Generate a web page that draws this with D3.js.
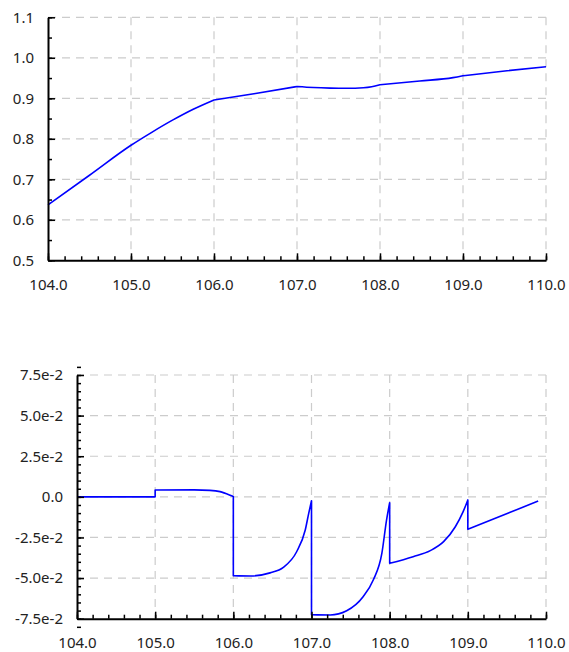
<!DOCTYPE html>
<html>
<head>
<meta charset="utf-8">
<script src="https://cdn.jsdelivr.net/npm/d3@7"></script>
<style>
  html, body { margin: 0; padding: 0; background: #fff; }
  svg { display: block; }
  text { font-family: "Noto Sans", sans-serif; font-size: 15px; fill: #222; }
</style>
</head>
<body>
<svg id="chart" width="569" height="652"></svg>
<script>
// ---------- DATA ----------
const topX = [104.0, 104.5, 105.0, 105.25, 105.5, 105.75, 106.0, 106.5, 107.0, 107.2, 107.4, 107.6, 107.8, 107.9, 108.0, 108.48, 108.88, 109.0, 109.53, 110.0];
const topY = [0.637, 0.710, 0.784, 0.816, 0.846, 0.873, 0.896, 0.912, 0.929, 0.9265, 0.9252, 0.9247, 0.926, 0.9285, 0.9336, 0.9427, 0.951, 0.9557, 0.968, 0.978];
const topKnots = [106, 107, 108, 109];   // x values where the upper curve has a corner

const botX = [104.0, 105.0,
              105.0, 105.5, 105.7, 105.83, 105.96, 106.0,
              106.0, 106.22, 106.47, 106.64, 106.81, 106.92, 106.965, 107.0,
              107.0, 107.24, 107.45, 107.66, 107.79, 107.90, 107.96, 108.0,
              108.0, 108.3, 108.52, 108.69, 108.84, 108.94, 109.0,
              109.0, 109.9];
const botY = [0.0, 0.0,
              0.0042, 0.0043, 0.0040, 0.0032, 0.0010, 0.0002,
              -0.0485, -0.0487, -0.0468, -0.0434, -0.0338, -0.0204, -0.0100, -0.0024,
              -0.0725, -0.0727, -0.0701, -0.0615, -0.0512, -0.0348, -0.0143, -0.0036,
              -0.0409, -0.0368, -0.0331, -0.0276, -0.0184, -0.0091, -0.0019,
              -0.0200, -0.0026];

const xTicks = [104, 105, 106, 107, 108, 109, 110];
const xTickLabels = ["104.0", "105.0", "106.0", "107.0", "108.0", "109.0", "110.0"];
const topYTicks = [0.5, 0.6, 0.7, 0.8, 0.9, 1.0, 1.1];
const topYLabels = ["0.5", "0.6", "0.7", "0.8", "0.9", "1.0", "1.1"];
const botYTicks = [-0.075, -0.05, -0.025, 0, 0.025, 0.05, 0.075];
const botYLabels = ["-7.5e-2", "-5.0e-2", "-2.5e-2", "0.0", "2.5e-2", "5.0e-2", "7.5e-2"];

// ---------- LAYOUT ----------
const svg = d3.select("#chart");
svg.append("rect").attr("width", 569).attr("height", 652).attr("fill", "#fff");

// split a series into smooth pieces: at repeated x (jumps) or at corner knots
function pieces(xs, ys, knots) {
  const segs = [];
  let cur = [];
  xs.forEach((v, i) => {
    if (i > 0 && v === xs[i - 1]) { segs.push(cur); cur = []; }
    cur.push([v, ys[i]]);
    if (knots.includes(v) && i > 0 && i < xs.length - 1 && xs[i + 1] !== v) {
      segs.push(cur); cur = [[v, ys[i]]];
    }
  });
  segs.push(cur);
  return segs;
}

const panels = [
  { x: d3.scaleLinear([104, 110], [48, 546]),
    y: d3.scaleLinear([0.5, 1.1], [260.3, 17.3]),
    yTicks: topYTicks, yLabels: topYLabels,
    yMinor: d3.range(0, 13).map(i => +(0.5 + i * 0.05).toFixed(3)),
    xs: topX, ys: topY, knots: topKnots },
  { x: d3.scaleLinear([104, 110], [77, 546]),
    y: d3.scaleLinear([-0.075, 0.075], [618.7, 375]),
    yTicks: botYTicks, yLabels: botYLabels,
    yMinor: d3.range(0, 33).map(i => +(-0.08 + i * 0.005).toFixed(4)),
    xs: botX, ys: botY, knots: [] }
];

const xMinor = d3.range(0, 31).map(i => +(104 + i * 0.2).toFixed(2));

panels.forEach(p => {
  const g = svg.append("g");
  const [x0, x1] = p.x.range();
  const [yb, yt] = p.y.range();

  // grid
  const grid = g.append("g").attr("stroke", "#cccccc").attr("stroke-width", 1.2)
    .attr("stroke-dasharray", "8,6").attr("fill", "none");
  xTicks.slice(1).forEach(v => {
    grid.append("line").attr("x1", p.x(v)).attr("x2", p.x(v)).attr("y1", yt).attr("y2", yb);
  });
  p.yTicks.slice(1).forEach(v => {
    grid.append("line").attr("x1", x1).attr("x2", x0).attr("y1", p.y(v)).attr("y2", p.y(v));
  });

  // series
  const line = d3.line().x((d) => p.x(d[0])).y((d) => p.y(d[1])).curve(d3.curveMonotoneX);
  let pathStr = "";
  pieces(p.xs, p.ys, p.knots).forEach((s, k) => {
    let d = line(s);
    if (k > 0) d = "L" + d.slice(1);
    pathStr += d;
  });
  g.append("path").attr("d", pathStr).attr("fill", "none")
    .attr("stroke", "#0000ff").attr("stroke-width", 1.6).attr("stroke-linejoin", "round");

  // x axis minor
  const xMin = g.append("g").attr("transform", `translate(0,${yb})`)
    .call(d3.axisBottom(p.x).tickValues(xMinor).tickSizeInner(-4).tickSizeOuter(0).tickFormat(""));
  xMin.select(".domain").remove();
  // x axis major
  const xAx = g.append("g").attr("transform", `translate(0,${yb})`)
    .call(d3.axisBottom(p.x).tickValues(xTicks).tickSizeInner(-7).tickSizeOuter(0).tickPadding(19)
      .tickFormat((d, i) => xTickLabels[i]));
  // y axis minor
  const yMin = g.append("g").attr("transform", `translate(${x0},0)`)
    .call(d3.axisLeft(p.y).tickValues(p.yMinor).tickSizeInner(-4).tickSizeOuter(0).tickFormat(""));
  yMin.select(".domain").remove();
  // y axis major
  const yAx = g.append("g").attr("transform", `translate(${x0},0)`)
    .call(d3.axisLeft(p.y).tickValues(p.yTicks).tickSizeInner(-7).tickSizeOuter(0).tickPadding(14)
      .tickFormat((d, i) => p.yLabels[i]));

  [xMin, xAx, yMin, yAx].forEach(a => {
    a.selectAll(".tick line").attr("stroke", "#000").attr("stroke-width", 1.5);
    a.selectAll(".domain").attr("stroke", "#000").attr("stroke-width", 2);
    a.selectAll("text").attr("font-family", "Noto Sans, sans-serif").attr("font-size", 15).attr("fill", "#222");
  });
});
</script>
</body>
</html>
